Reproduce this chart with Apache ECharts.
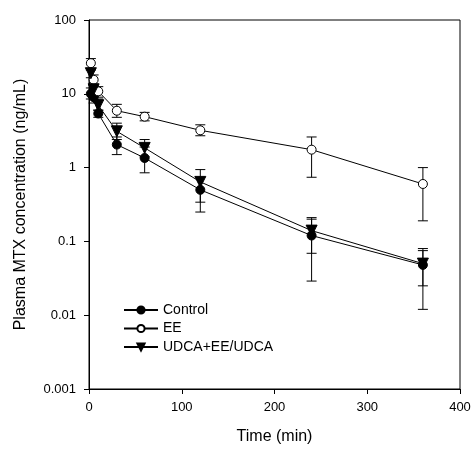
<!DOCTYPE html>
<html><head><meta charset="utf-8">
<script src="https://cdn.jsdelivr.net/npm/echarts@6/dist/echarts.min.js"></script>
<style>html,body{margin:0;padding:0;background:#fff}#c{width:474px;height:450px}</style>
</head><body><div id="c"></div>
<script>
const times = [2, 5, 10, 30, 60, 120, 240, 360];
const controlMean = [10, 9, 5.4, 2.05, 1.35, 0.5, 0.12, 0.048];
const controlLow  = [8.5, 7.5, 4.8, 1.5, 0.85, 0.25, 0.029, 0.012];
const controlHigh = [12, 10.5, 6.0, 2.6, 1.9, 0.74, 0.2, 0.08];
const eeMean = [26, 15.5, 10.8, 5.9, 4.9, 3.2, 1.75, 0.6];
const eeLow  = [21, 13, 9, 4.8, 4.3, 2.7, 0.74, 0.19];
const eeHigh = [30, 18, 12.5, 7.2, 5.6, 3.8, 2.6, 1.0];
const udMean = [19, 11.5, 7, 3.1, 1.85, 0.64, 0.14, 0.05];
const udLow  = [16.5, 9.5, 6, 2.4, 1.4, 0.34, 0.069, 0.025];
const udHigh = [22, 13.5, 8.5, 4.0, 2.4, 0.94, 0.21, 0.075];
const seriesNames = ['Control', 'EE', 'UDCA+EE/UDCA'];
const xTicks = [0, 100, 200, 300, 400];
const yTicks = [0.001, 0.01, 0.1, 1, 10, 100];

const FONT = 'Liberation Sans, Arial, sans-serif';
const tri = 'path://M0,0 L10,0 L5,9 Z';

function errSeries(low, high) {
  return {
    type: 'custom', silent: true, z: 2,
    data: times.map((t, i) => [t, low[i], high[i]]),
    renderItem: function (params, api) {
      const p1 = api.coord([api.value(0), api.value(1)]);
      const p2 = api.coord([api.value(0), api.value(2)]);
      const w = 5;
      const st = { stroke: '#000', lineWidth: 1 };
      return { type: 'group', children: [
        { type: 'line', shape: { x1: p1[0], y1: p1[1], x2: p2[0], y2: p2[1] }, style: st },
        { type: 'line', shape: { x1: p1[0] - w, y1: p1[1], x2: p1[0] + w, y2: p1[1] }, style: st },
        { type: 'line', shape: { x1: p2[0] - w, y1: p2[1], x2: p2[0] + w, y2: p2[1] }, style: st }
      ]};
    }
  };
}
function lineSeries(name, mean, symbol, fill, size) {
  return {
    name: name, type: 'line', z: 3,
    data: times.map((t, i) => [t, mean[i]]),
    symbol: symbol, symbolSize: size, showSymbol: true,
    lineStyle: { color: '#000', width: 1 },
    itemStyle: { color: fill, borderColor: '#000', borderWidth: 1 },
    emphasis: { disabled: true }
  };
}
const chart = echarts.init(document.getElementById('c'), null, { renderer: 'canvas' });
chart.setOption({
  animation: false,
  grid: { left: 89, right: 14, top: 20, bottom: 58, show: true, borderColor: '#000', borderWidth: 1 },
  legend: {
    left: 118, top: 298, orient: 'vertical', itemWidth: 34, itemHeight: 9, itemGap: 4.5,
    textStyle: { fontFamily: FONT, fontSize: 14, color: '#000' },
    data: seriesNames
  },
  xAxis: {
    type: 'value', min: 0, max: 400, interval: 100,
    name: 'Time (min)', nameLocation: 'middle', nameGap: 40,
    nameTextStyle: { fontFamily: FONT, fontSize: 16, color: '#000' },
    axisLine: { lineStyle: { color: '#000' } },
    axisTick: { show: true, inside: false, length: 5, lineStyle: { color: '#000' } },
    axisLabel: { fontFamily: FONT, fontSize: 13, color: '#000', margin: 12,
      formatter: v => xTicks.includes(v) ? String(v) : '' },
    splitLine: { show: false }
  },
  yAxis: {
    type: 'log', logBase: 10, min: 0.001, max: 100,
    name: 'Plasma MTX concentration (ng/mL)', nameLocation: 'middle', nameGap: 60,
    nameTextStyle: { fontFamily: FONT, fontSize: 16, color: '#000' },
    axisLine: { lineStyle: { color: '#000' } },
    axisTick: { show: true, inside: false, length: 5, lineStyle: { color: '#000' } },
    axisLabel: { fontFamily: FONT, fontSize: 13, color: '#000', margin: 13,
      formatter: v => { const r = parseFloat(Number(v).toPrecision(3)); return yTicks.includes(r) ? String(r) : ''; } },
    splitLine: { show: false }
  },
  series: [
    errSeries(controlLow, controlHigh),
    errSeries(eeLow, eeHigh),
    errSeries(udLow, udHigh),
    lineSeries(seriesNames[0], controlMean, 'circle', '#000', 9),
    lineSeries(seriesNames[1], eeMean, 'circle', '#fff', 9),
    lineSeries(seriesNames[2], udMean, tri, '#000', 11)
  ]
});
</script></body></html>
